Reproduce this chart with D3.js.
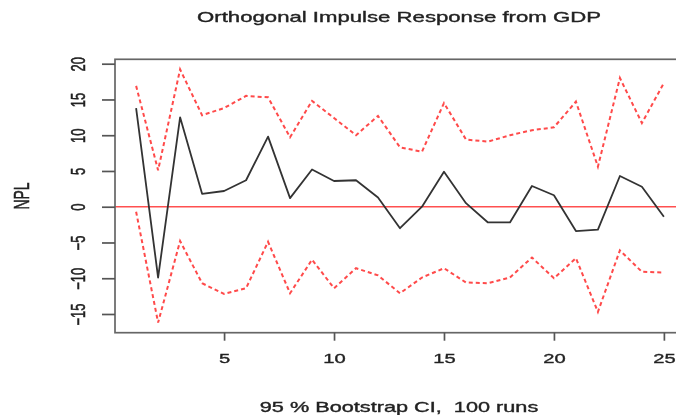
<!DOCTYPE html>
<html>
<head>
<meta charset="utf-8">
<script src="https://cdn.jsdelivr.net/npm/d3@7"></script>
<style>
  body { margin: 0; background: #fff; }
  svg { filter: blur(0.45px); }
  text { font-family: "Liberation Sans", Arial, sans-serif; fill: #222; stroke: #222; stroke-width: 0.35px; white-space: pre; }
</style>
</head>
<body>
<div id="chart"></div>
<script>
// Data
const steps = d3.range(1, 26);
const irf = [13.8, -9.9, 12.5, 1.8, 2.2, 3.7, 9.8, 1.2, 5.2, 3.6, 3.7, 1.3, -3.0,
             0.0, 4.9, 0.5, -2.2, -2.2, 2.9, 1.6, -3.4, -3.2, 4.3, 2.8, -1.4];
const upper = [16.9, 5.1, 19.2, 12.8, 13.8, 15.5, 15.3, 9.7, 14.8, 12.4, 10.0, 12.7, 8.3,
               7.7, 14.5, 9.4, 9.1, 10.0, 10.7, 11.1, 14.7, 5.6, 18.0, 11.7, 17.3];
const lower = [-0.7, -16.2, -4.8, -10.7, -12.2, -11.4, -4.9, -12.1, -7.4, -11.4, -8.6, -9.6, -12.1,
               -9.9, -8.6, -10.6, -10.7, -9.9, -7.1, -10.0, -7.2, -14.7, -6.1, -9.1, -9.2];
const xTicks = [5, 10, 15, 20, 25];
const yTicks = [-15, -10, -5, 0, 5, 10, 15, 20];
const title = "Orthogonal Impulse Response from GDP";
const xLabel = "95 % Bootstrap CI,  100 runs";
const yLabel = "NPL";

// Dimensions
const width = 676, height = 415;
const plot = {left: 115, right: 685, top: 59.3, bottom: 332.7};
const sx = 1.55; // the picture is stretched sideways

// Scales, padded 4% like R does
const xExt = d3.extent(steps);
const xPad = (xExt[1] - xExt[0]) * 0.04;
const xScale = d3.scaleLinear()
    .domain([xExt[0] - xPad, xExt[1] + xPad])
    .range([plot.left, plot.right]);

const yExt = d3.extent(lower.concat(upper, irf));
const yPad = (yExt[1] - yExt[0]) * 0.04;
const yScale = d3.scaleLinear()
    .domain([yExt[0] - yPad, yExt[1] + yPad])
    .range([plot.bottom, plot.top]);

const svg = d3.select("#chart").append("svg")
    .attr("width", width)
    .attr("height", height);

// Lines
const line = d3.line()
    .x((d, i) => xScale(steps[i]))
    .y(d => yScale(d));

svg.append("line")
    .attr("x1", plot.left).attr("x2", plot.right)
    .attr("y1", yScale(0)).attr("y2", yScale(0))
    .attr("stroke", "#ff5050")
    .attr("stroke-width", 1.3);

[upper, lower].forEach(band => {
  svg.append("path")
      .attr("d", line(band))
      .attr("fill", "none")
      .attr("stroke", "#ff4a4a")
      .attr("stroke-width", 2)
      .attr("stroke-dasharray", "4,3");
});

svg.append("path")
    .attr("d", line(irf))
    .attr("fill", "none")
    .attr("stroke", "#333")
    .attr("stroke-width", 1.8)
    .attr("stroke-linejoin", "round");

// Box
svg.append("rect")
    .attr("x", plot.left).attr("y", plot.top)
    .attr("width", plot.right - plot.left)
    .attr("height", plot.bottom - plot.top)
    .attr("fill", "none")
    .attr("stroke", "#666")
    .attr("stroke-width", 1.7);

// X axis
const xAxis = svg.append("g")
    .attr("transform", `translate(0,${plot.bottom})`)
    .call(d3.axisBottom(xScale).tickValues(xTicks).tickSize(8).tickFormat(d3.format("d")));
xAxis.select(".domain").remove();
xAxis.selectAll(".tick line").attr("stroke", "#555").attr("stroke-width", 1.7);
xAxis.selectAll(".tick text")
    .attr("y", 0).attr("dy", 0)
    .attr("transform", `translate(0,30) scale(${sx},1)`)
    .style("font-size", "13px");

// Y axis
const yAxis = svg.append("g")
    .attr("transform", `translate(${plot.left},0)`)
    .call(d3.axisLeft(yScale).tickValues(yTicks).tickSize(13).tickFormat(d3.format("d")));
yAxis.select(".domain").remove();
yAxis.selectAll(".tick line").attr("stroke", "#555").attr("stroke-width", 1.7);
yAxis.selectAll(".tick text")
    .attr("x", 0).attr("dy", 0)
    .attr("text-anchor", "middle")
    .attr("transform", `translate(-37,0) scale(${sx},1) rotate(-90) translate(0,4.5)`)
    .style("font-size", "13px");

// Titles
svg.append("text")
    .attr("transform", `translate(${(plot.left + plot.right) / 2 - 1},22) scale(${sx},1)`)
    .attr("text-anchor", "middle")
    .style("font-size", "14.3px")
    .text(title);

svg.append("text")
    .attr("transform", `translate(${(plot.left + plot.right) / 2 - 1},412) scale(${sx},1)`)
    .attr("text-anchor", "middle")
    .style("font-size", "14px")
    .text(xLabel);

svg.append("text")
    .attr("transform", `translate(21,${(plot.top + plot.bottom) / 2}) scale(${sx},1) rotate(-90) translate(0,5)`)
    .attr("text-anchor", "middle")
    .style("font-size", "14px")
    .text(yLabel);
</script>
</body>
</html>
